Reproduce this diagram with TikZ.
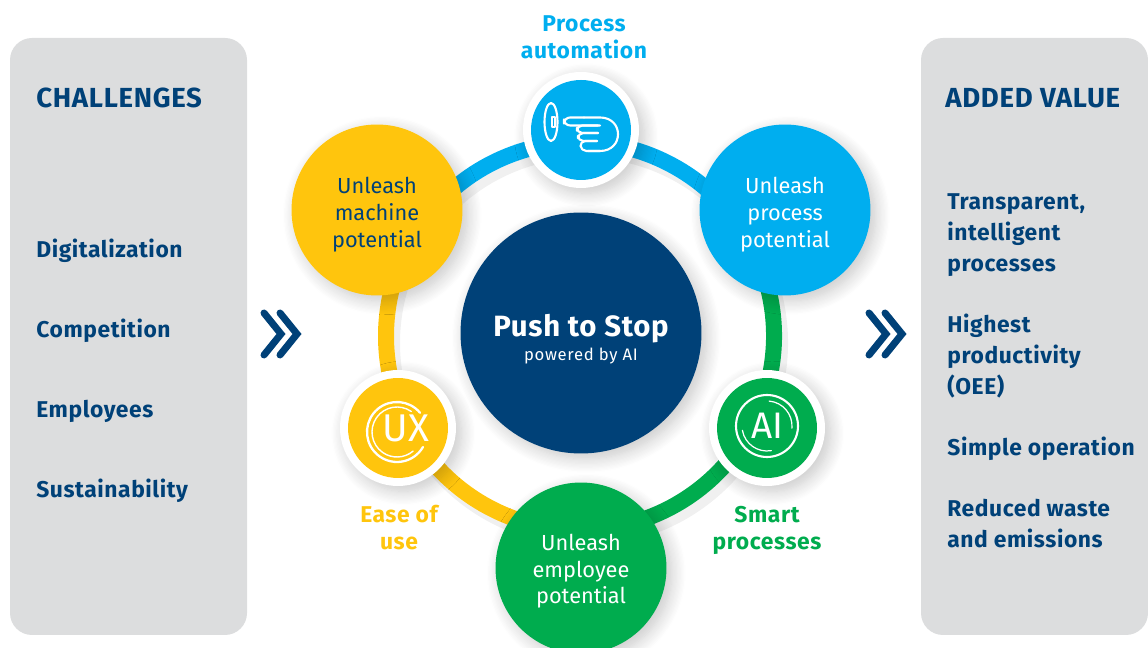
\documentclass[tikz,border=0pt]{standalone}
\usepackage{fontspec}
\setmainfont{Fira Sans}
\newfontfamily\boldlabel[LetterSpace=2.5]{Fira Sans}
\usepackage{xcolor}
\usetikzlibrary{
    shadows.blur,
    positioning
}
\definecolor{navy}{HTML}{004178}
\definecolor{skyblue}{HTML}{00AEEF}
\definecolor{amber}{HTML}{FFC50D}
\definecolor{leaf}{HTML}{00AC4E}
\definecolor{panelgrey}{HTML}{DCDDDE}
\tikzset{
    softshade/.style={blur shadow={shadow blur steps=12, shadow xshift=3pt, shadow yshift=-3pt, shadow opacity=22, shadow blur radius=8pt}},
    panelbox/.style={fill=panelgrey, rounded corners=0.44cm},
    panelhead/.style={anchor=west, inner sep=0pt, text=navy, font=\boldlabel\fontsize{15.7}{18}\selectfont\bfseries},
    panelitem/.style={anchor=west, inner sep=0pt, align=left, text=navy, font=\boldlabel\fontsize{13}{17.6}\selectfont\bfseries},
    bigdisc/.style={circle, inner sep=0pt, minimum size=3.42cm, align=center, softshade, font=\fontsize{12.4}{15.3}\selectfont},
    whitedisc/.style={circle, inner sep=0pt, minimum size=2.32cm, fill=white, softshade},
    icondisc/.style={circle, inner sep=0pt, minimum size=2cm},
    ringarc/.style={line width=0.32cm},
    ringshade/.style={line width=0.36cm, black, opacity=0.06},
    iconline/.style={draw=white, line width=1.2pt, line cap=round, line join=round},
    steplabel/.style={inner sep=0pt, align=center, font=\boldlabel\fontsize{13}{15.3}\selectfont\bfseries},
    chevron/.style={draw=navy, line width=0.14cm, line cap=round, line join=miter}
}
\begin{document}
\begin{tikzpicture}[x=0.02cm, y=0.02cm]
\useasboundingbox (0,0) rectangle (1148,648);
% side panels
\fill[panelbox] (10,13) rectangle (247,610);
\fill[panelbox] (921,13) rectangle (1148,610);
\node[panelhead] (challenges) at (36,550) {CHALLENGES};
\node[panelitem] (digital) at (36,397) {Digitalization};
\node[panelitem] (competition) at (36,317) {Competition};
\node[panelitem] (employees) at (36,237) {Employees};
\node[panelitem] (sustain) at (36,157) {Sustainability};
\node[panelhead] (added) at (945,550) {ADDED VALUE};
\node[panelitem] (transparent) at (947,413) {Transparent,\\intelligent\\processes};
\node[panelitem] (highest) at (947,292) {Highest\\productivity\\(OEE)};
\node[panelitem] (simple) at (947,199) {Simple operation};
\node[panelitem] (reduced) at (947,124.5) {Reduced waste\\and emissions};
% chevrons
\draw[chevron] (264,335) -- (281,314) -- (264,293);
\draw[chevron] (280,335) -- (297,314) -- (280,293);
\draw[chevron] (869,335) -- (886,314) -- (869,293);
\draw[chevron] (885,335) -- (902,314) -- (885,293);
% ring
\coordinate (hub) at (580,312);
\coordinate (hubshade) at (585,305);
\draw[ringshade] (hubshade) ++(-90:194) arc[start angle=-90, end angle=-150, radius=194];
\draw[ringshade] (hubshade) ++(-150:194) arc[start angle=-150, end angle=-210, radius=194];
\draw[ringshade] (hubshade) ++(30:194) arc[start angle=30, end angle=-90, radius=194];
\draw[ringshade] (hubshade) ++(150:194) arc[start angle=150, end angle=30, radius=194];
\draw[ringarc, amber] (hub) ++(-90:194) arc[start angle=-90, end angle=-210, radius=194];
\draw[ringarc, leaf] (hub) ++(30:194) arc[start angle=30, end angle=-90, radius=194];
\draw[ringarc, skyblue] (hub) ++(150:194) arc[start angle=150, end angle=30, radius=194];
% big discs
\node[bigdisc, fill=amber, text=navy] (machine) at (377,438) {\\[-0.6pt]Unleash\\machine\\potential};
\node[bigdisc, fill=skyblue, text=white] (process) at (785,438) {\\[-0.6pt]Unleash\\process\\potential};
\node[bigdisc, fill=leaf, text=white] (employee) at (581,80) {\\[-2.3pt]Unleash\\employee\\potential};
\node[circle, inner sep=0pt, minimum size=4.82cm, fill=navy, softshade, align=center, text=white] (core) at (581,315)
    {\\[6pt]{\boldlabel\fontsize{16.7}{20}\selectfont\bfseries Push to Stop}\\[1.4pt]{\fontsize{9.5}{10}\selectfont\addfontfeature{LetterSpace=4}powered by AI}};
% small discs
\node[whitedisc] (handrim) at (581,518) {};
\node[icondisc, fill=skyblue] (handicon) at (581,518) {};
\node[whitedisc] (uxrim) at (398,220) {};
\node[icondisc, fill=amber] (uxicon) at (398,220) {};
\node[whitedisc] (airim) at (767,220) {};
\node[icondisc, fill=leaf] (aiicon) at (767,220) {};
% hand
\draw[iconline] (551,526) ellipse (6.5 and 19);
\draw[iconline, line width=0.6pt] (552,521) rectangle (555,531);
\draw[iconline, rounded corners=3.5pt] (584,530.5) -- (564,530.5) -- (564,522.5) -- (600,522.5);
\draw[iconline] (584,530.5) -- (600,530.5) .. controls (624,530.5) and (624,497) .. (600,497) -- (588,497);
\draw[iconline, rounded corners=3pt] (598,522.5) -- (577,522.5) -- (577,515) -- (598,515);
\draw[iconline, rounded corners=3pt] (598,515) -- (578,515) -- (578,507) -- (597,507);
\draw[iconline, rounded corners=3pt] (597,507) -- (580,507) -- (581,497) -- (600,497);
% ux logo
\draw[iconline, line width=1.3pt] (397,216) ++(40:30) arc[start angle=40, end angle=330, radius=30];
\draw[iconline, line width=0.8pt] (397,216) ++(55:25) arc[start angle=55, end angle=310, radius=25];
\node[inner sep=0pt, text=white, font=\fontsize{22}{22}\selectfont] (uxmark) at (406,220) {UX};
% ai logo
\draw[iconline, line width=1.2pt] (767,222) circle (31);
\draw[iconline, line width=0.7pt] (767,222) ++(85:25) arc[start angle=85, end angle=-5, radius=25];
\draw[iconline, line width=0.7pt] (767,222) ++(-80:25) arc[start angle=-80, end angle=-170, radius=25];
\node[inner sep=0pt, text=white, font=\fontsize{21}{22}\selectfont] (aimark) at (767,222) {AI};
% step labels
\node[steplabel, text=skyblue] (proclabel) at (584,611) {Process\\automation};
\node[steplabel, text=amber] (easelabel) at (399,120.5) {Ease of\\use};
\node[steplabel, text=leaf] (smartlabel) at (767,118) {Smart\\processes};
\end{tikzpicture}
\end{document}
